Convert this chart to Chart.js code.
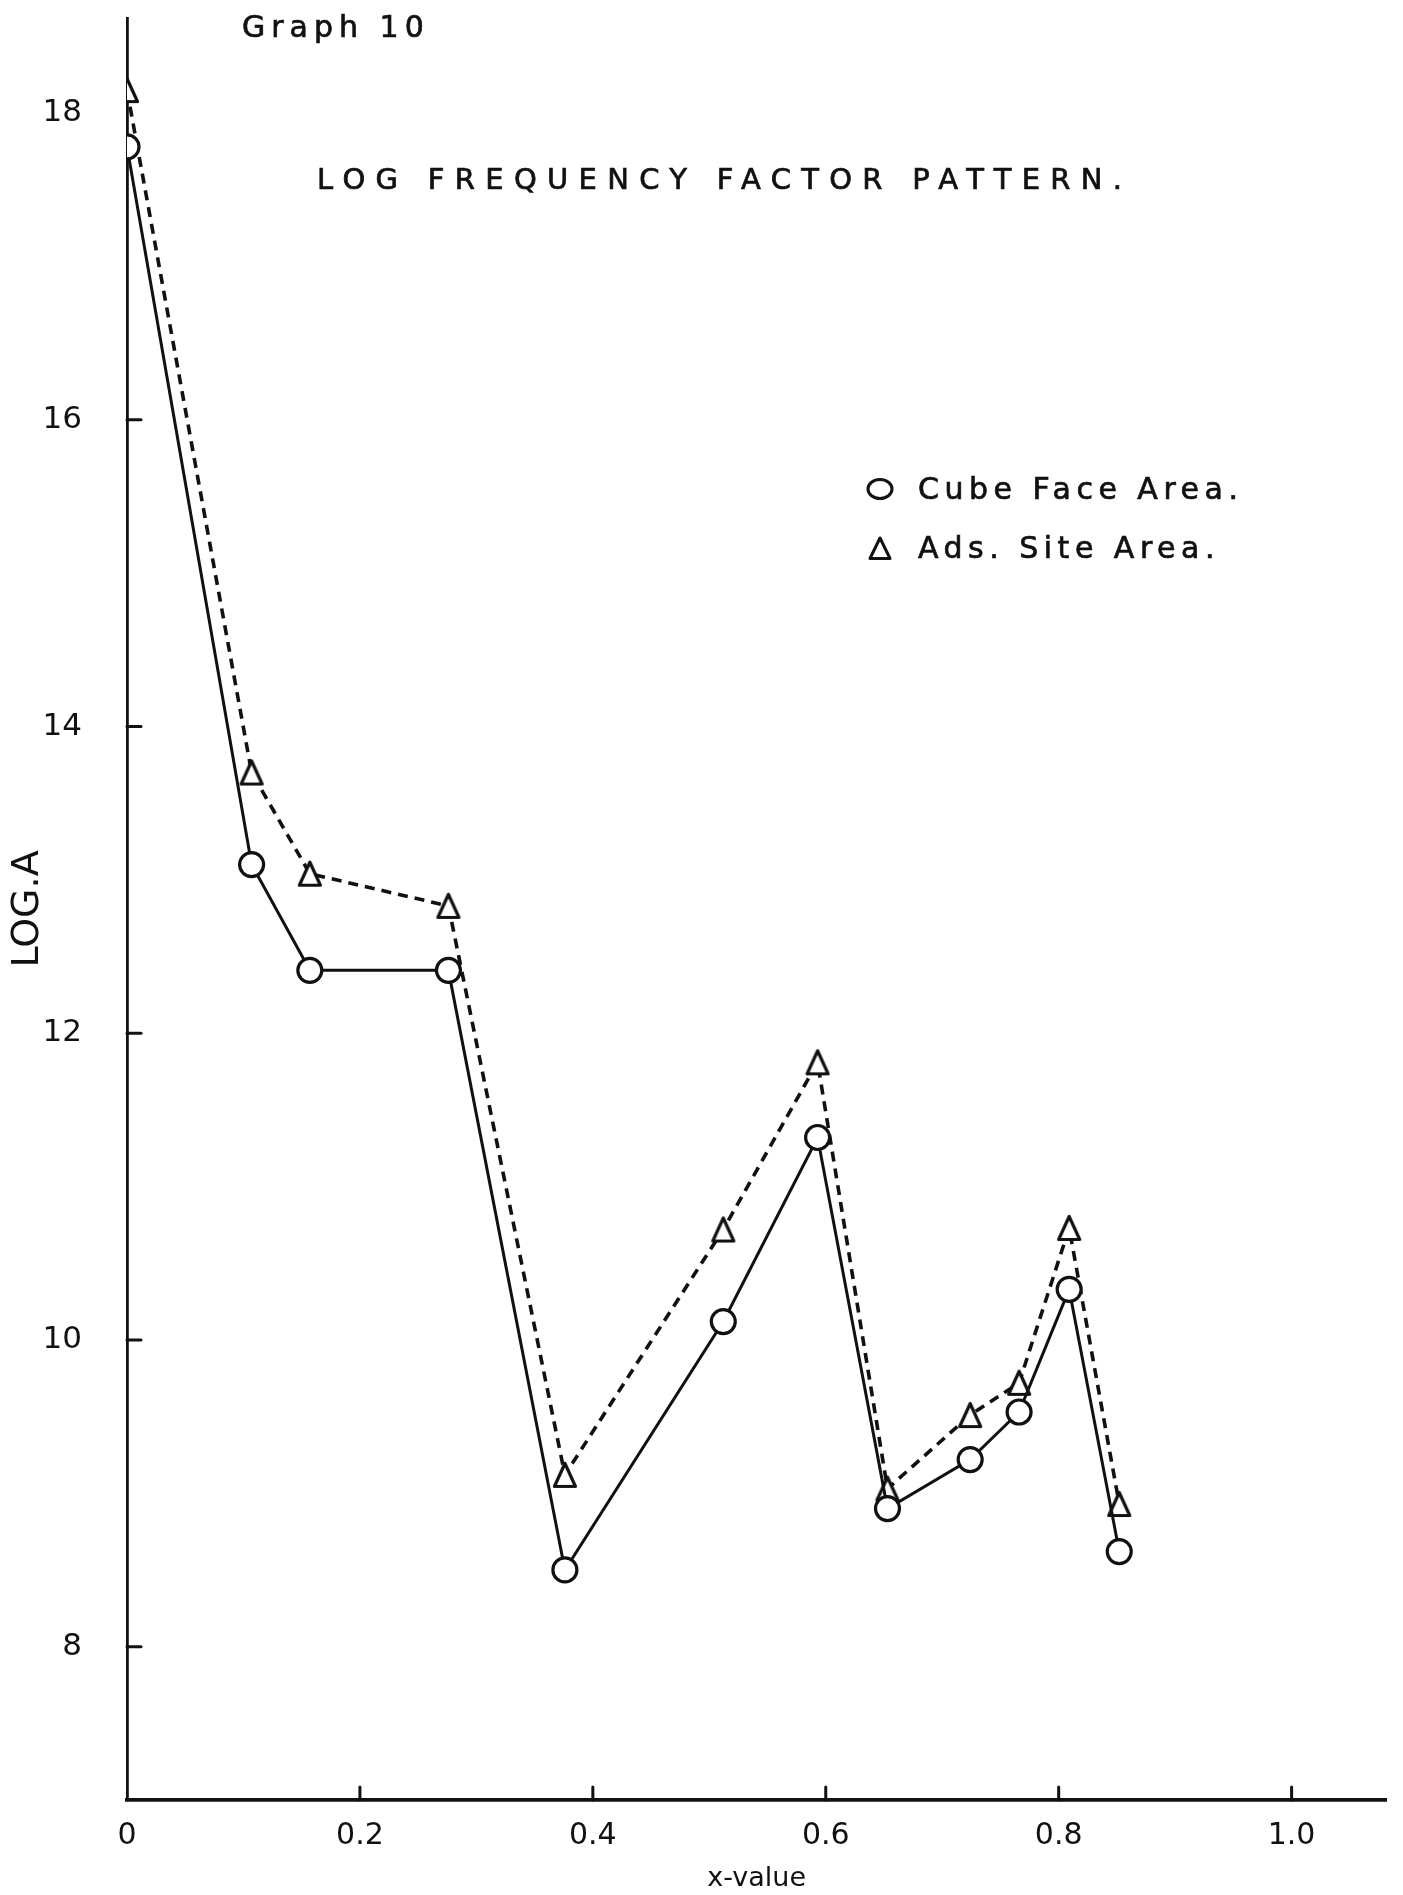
<!DOCTYPE html>
<html>
<head>
<meta charset="utf-8">
<script src="https://cdn.jsdelivr.net/npm/chart.js@4.4.1/dist/chart.umd.min.js"></script>
<style>
  html, body { margin: 0; padding: 0; background: #fff; }
  #wrap { position: relative; width: 1403px; height: 1895px; overflow: hidden; background: #fff; }
  #c { position: absolute; left: 0; top: 0; }
  .txt { position: absolute; font-family: "DejaVu Sans", sans-serif; color: #111; white-space: nowrap; line-height: 1; -webkit-text-stroke: 0.7px #111; }
  #graphNo { left: 242px; top: 12px; font-size: 30px; letter-spacing: 6px; }
  #title { left: 317px; top: 165px; font-size: 29px; letter-spacing: 10.3px; }
  .leg { left: 866px; font-size: 30px; letter-spacing: 5.5px; display: flex; align-items: center; }
  .leg svg { margin-right: 24px; }
  #leg1 { top: 474px; }
  #leg2 { top: 533px; }
</style>
</head>
<body>
<div id="wrap">
  <canvas id="c" width="1403" height="1895"></canvas>
  <div class="txt" id="graphNo">Graph 10</div>
  <div class="txt" id="title">LOG FREQUENCY FACTOR PATTERN.</div>
  <div class="txt leg" id="leg1">
    <svg width="28" height="24" viewBox="0 0 28 24"><ellipse cx="14" cy="12" rx="12" ry="9.5" fill="#fff" stroke="#111" stroke-width="3"/></svg>
    <span>Cube Face Area.</span>
  </div>
  <div class="txt leg" id="leg2">
    <svg width="28" height="26" viewBox="0 0 28 26"><path d="M14 3 L4 23.5 L24 23.5 Z" fill="#fff" stroke="#111" stroke-width="3" stroke-linejoin="round"/></svg>
    <span>Ads. Site Area.</span>
  </div>
</div>
<script>
// x-values shared by both series
const xValues = [0, 0.107, 0.157, 0.276, 0.376, 0.512, 0.593, 0.653, 0.724, 0.766, 0.809, 0.852];
// log A, cube face area
const cubeFaceArea = [17.78, 13.10, 12.41, 12.41, 8.50, 10.12, 11.32, 8.90, 9.22, 9.53, 10.33, 8.62];
// log A, adsorption site area
const adsSiteArea = [18.15, 13.70, 13.04, 12.83, 9.12, 10.72, 11.81, 9.03, 9.51, 9.72, 10.73, 8.93];
// axis tick labels
const xTicks = [0, 0.2, 0.4, 0.6, 0.8, 1.0];
const yTicks = [8, 10, 12, 14, 16, 18];
const yTickMarks = [8, 10, 12, 14, 16];

const INK = '#111';
const FONT = '"DejaVu Sans", sans-serif';

// open triangle marker, slightly taller than wide
function triangleMarker() {
  const cv = document.createElement('canvas');
  cv.width = 28; cv.height = 30;
  const g = cv.getContext('2d');
  g.beginPath();
  g.moveTo(14, 3.5);
  g.lineTo(3.5, 26.5);
  g.lineTo(24.5, 26.5);
  g.closePath();
  g.fillStyle = '#fff';
  g.fill();
  g.lineWidth = 3.2;
  g.lineJoin = 'round';
  g.strokeStyle = INK;
  g.stroke();
  return cv;
}

// small tick marks pointing into the plot
const innerTicks = {
  id: 'innerTicks',
  beforeDatasetsDraw(chart) {
    const { ctx, chartArea } = chart;
    const xs = chart.scales.x, ys = chart.scales.y;
    ctx.save();
    ctx.strokeStyle = INK;
    ctx.lineWidth = 3;
    ctx.lineCap = 'round';
    xTicks.filter(v => v > 0).forEach(v => {
      const px = xs.getPixelForValue(v);
      ctx.beginPath();
      ctx.moveTo(px, chartArea.bottom);
      ctx.lineTo(px, chartArea.bottom - 13);
      ctx.stroke();
    });
    yTickMarks.forEach(v => {
      const py = ys.getPixelForValue(v);
      ctx.beginPath();
      ctx.moveTo(chartArea.left, py);
      ctx.lineTo(chartArea.left + 14, py);
      ctx.stroke();
    });
    ctx.restore();
  }
};

const cubePts = xValues.map((x, i) => ({ x, y: cubeFaceArea[i] }));
const adsPts = xValues.map((x, i) => ({ x, y: adsSiteArea[i] }));

new Chart(document.getElementById('c'), {
  type: 'line',
  data: {
    datasets: [
      {
        label: 'Cube Face Area.',
        data: cubePts,
        borderColor: INK,
        borderWidth: 3,
        pointStyle: 'circle',
        pointRadius: 12,
        pointBorderWidth: 3.2,
        pointBorderColor: INK,
        pointBackgroundColor: '#fff',
        tension: 0,
        fill: false
      },
      {
        label: 'Ads. Site Area.',
        data: adsPts,
        borderColor: INK,
        borderWidth: 3.6,
        borderDash: [10, 7],
        pointStyle: triangleMarker(),
        pointRadius: 13,
        tension: 0,
        fill: false
      }
    ]
  },
  options: {
    responsive: false,
    animation: false,
    devicePixelRatio: 1,
    layout: { padding: { top: 18, left: 0, right: 0, bottom: 0 } },
    plugins: { legend: { display: false }, tooltip: { enabled: false }, title: { display: false } },
    scales: {
      x: {
        type: 'linear',
        min: 0,
        max: 1.0814,
        afterFit(scale) {
          scale.height = 95;
          scale.paddingLeft = 0;
          scale.paddingRight = 0;
        },
        afterBuildTicks(scale) { scale.ticks = xTicks.map(v => ({ value: v })); },
        grid: { display: false, drawTicks: false },
        border: { display: true, color: INK, width: 3.8 },
        ticks: {
          color: INK,
          padding: 18,
          font: { family: FONT, size: 30 },
          maxRotation: 0,
          callback: v => (v === 0 ? '0' : Number(v).toFixed(1))
        },
        title: {
          display: true,
          text: 'x-value',
          color: INK,
          font: { family: FONT, size: 27 },
          padding: { top: 0, bottom: 0 }
        }
      },
      y: {
        type: 'linear',
        min: 7,
        max: 18.62,
        afterFit(scale) {
          scale.width = 127;
          scale.paddingTop = 0;
          scale.paddingBottom = 0;
        },
        afterBuildTicks(scale) { scale.ticks = yTicks.map(v => ({ value: v })); },
        grid: { display: false, drawTicks: false },
        border: { display: true, color: INK, width: 2.8 },
        ticks: {
          color: INK,
          padding: 45,
          font: { family: FONT, size: 31 },
          callback: v => String(v)
        },
        title: {
          display: true,
          text: 'LOG.A',
          color: INK,
          font: { family: FONT, size: 38 },
          padding: { top: 5, bottom: 0 }
        }
      }
    }
  },
  plugins: [innerTicks]
});
</script>
</body>
</html>
